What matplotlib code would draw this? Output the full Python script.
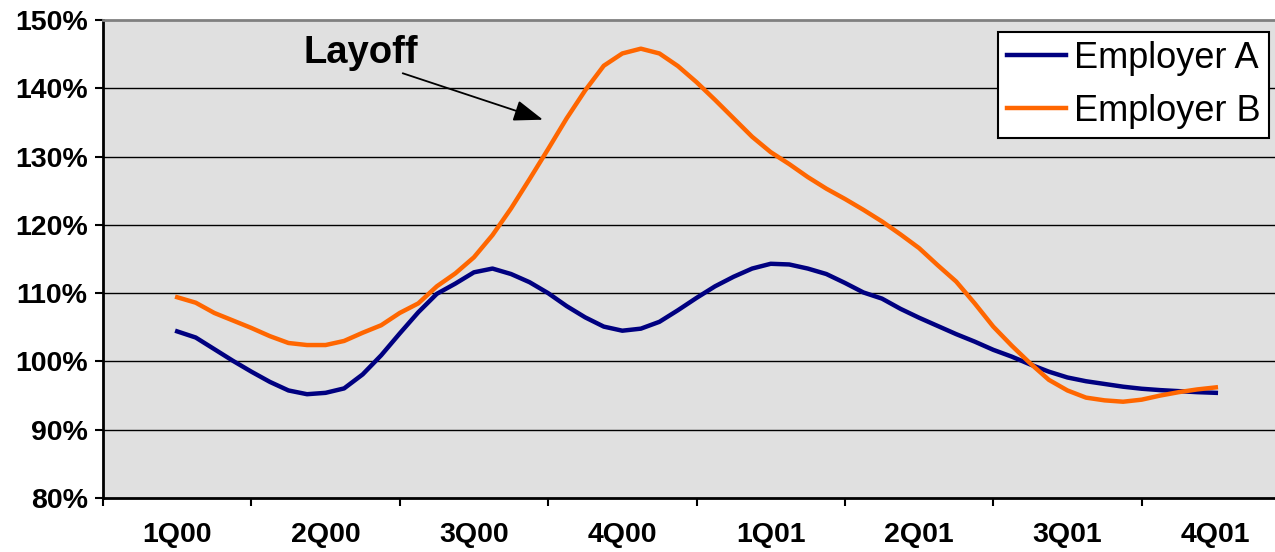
import numpy as np
import matplotlib.pyplot as plt

plt.rcParams['font.family'] = ['Liberation Sans', 'DejaVu Sans']

quarters = ['1Q00', '2Q00', '3Q00', '4Q00', '1Q01', '2Q01', '3Q01', '4Q01']
steps_per_quarter = 8

# index ratio, sampled 8 times per quarter from mid-1Q00 to mid-4Q01
employer_a = [104.4, 103.5, 101.8, 100.1, 98.5, 97.0, 95.75, 95.2, 95.4, 96.05,
              98.1, 100.9, 104.1, 107.2, 109.9, 111.4, 113.05, 113.6, 112.8, 111.6,
              110.0, 108.1, 106.45, 105.1, 104.5, 104.8, 105.8, 107.5, 109.3, 111.0,
              112.4, 113.6, 114.3, 114.2, 113.6, 112.8, 111.5, 110.1, 109.2, 107.7,
              106.4, 105.2, 104.0, 102.9, 101.7, 100.7, 99.55, 98.5, 97.65, 97.1,
              96.7, 96.3, 96.0, 95.8, 95.65, 95.5, 95.4]
employer_b = [109.4, 108.6, 107.1, 106.0, 104.9, 103.7, 102.7, 102.4, 102.4, 103.0,
              104.2, 105.3, 107.1, 108.5, 111.0, 112.9, 115.25, 118.5, 122.4, 126.7,
              131.1, 135.6, 139.7, 143.3, 145.1, 145.8, 145.1, 143.25, 140.9, 138.3,
              135.6, 132.9, 130.65, 128.9, 127.0, 125.3, 123.8, 122.2, 120.5, 118.6,
              116.6, 114.1, 111.7, 108.5, 105.1, 102.3, 99.7, 97.3, 95.75, 94.7,
              94.3, 94.1, 94.4, 95.0, 95.5, 95.9, 96.2]

x = 0.5 + np.arange(len(employer_a)) / steps_per_quarter

fig = plt.figure(figsize=(12.75, 5.52), dpi=100)
ax = fig.add_axes([103 / 1275, 1 - 498 / 552, 1187 / 1275, 478 / 552])
ax.set_facecolor('#e0e0e0')

ax.plot(x, employer_a, color='#000080', lw=3.2, label='Employer A',
        solid_joinstyle='round', zorder=3)
ax.plot(x, employer_b, color='#ff6600', lw=3.2, label='Employer B',
        solid_joinstyle='round', zorder=3)

ax.set_xlim(0, len(quarters))
ax.set_ylim(80, 150)

# horizontal gridlines
yt = np.arange(80, 151, 10)
ax.set_yticks(yt)
ax.set_yticklabels([f'{v}%' for v in yt], fontsize=20.5, fontweight='bold')
for v in yt[1:-1]:
    ax.axhline(v, color='black', lw=1.0, zorder=1)

# quarter boundaries get tick marks, labels sit in the middle
ax.set_xticks(np.arange(len(quarters) + 1))
ax.set_xticklabels([])
ax.set_xticks(np.arange(len(quarters)) + 0.5, minor=True)
ax.set_xticklabels(quarters, minor=True, fontsize=20.5, fontweight='bold')
ax.tick_params(axis='x', which='minor', length=0, pad=17)
ax.tick_params(axis='x', which='major', length=6, width=1.5, direction='out')
ax.tick_params(axis='y', length=6, width=1.5, direction='out', pad=5)

for side in ['left', 'bottom']:
    ax.spines[side].set_linewidth(2)
    ax.spines[side].set_color('black')
ax.spines['top'].set_color('#808080')
ax.spines['top'].set_linewidth(2)
ax.spines['right'].set_visible(False)

ax.text(1.348, 143.7, 'Layoff', fontsize=27.5, fontweight='bold',
        ha='left', va='baseline')
ax.annotate('', xy=(2.965, 135.4), xytext=(2.02, 142.2),
            arrowprops=dict(arrowstyle='-|>,head_length=1.8,head_width=0.65',
                            color='black', lw=1.3, shrinkA=0, shrinkB=0))

leg = ax.legend(loc='upper left', bbox_to_anchor=(997.7 / 1275, 1 - 31.7 / 552),
                bbox_transform=fig.transFigure, fontsize=26, frameon=True,
                fancybox=False, framealpha=1, edgecolor='black',
                handlelength=1.65, handletextpad=0.2, borderpad=0.25,
                labelspacing=0.5, borderaxespad=0)
leg.get_frame().set_linewidth(1.5)

fig.savefig('out.png', dpi=100)
